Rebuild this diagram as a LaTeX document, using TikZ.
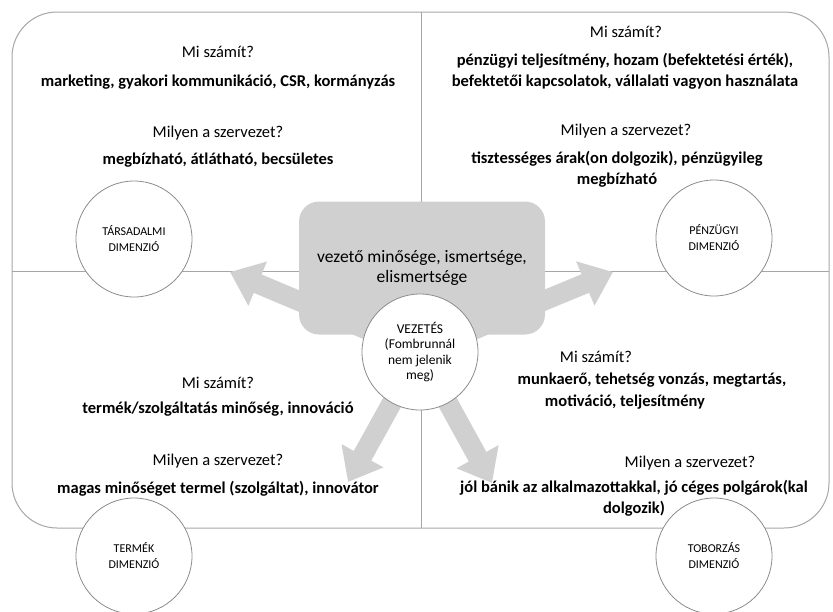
\documentclass[tikz,border=0pt]{standalone}
\usepackage{fontspec}
\setmainfont{Carlito}
\usetikzlibrary{arrows.meta}

\definecolor{framegray}{RGB}{166,166,166}
\definecolor{circlegray}{RGB}{140,140,140}
\definecolor{boxgray}{RGB}{208,208,208}

\begin{document}
\begin{tikzpicture}[x=1pt, y=-1pt,
  question/.style={font=\fontsize{16.5}{21}\selectfont, align=center, inner sep=0pt},
  answer/.style={font=\fontsize{16.5}{21}\selectfont\bfseries, align=center, inner sep=0pt},
  dimension/.style={circle, draw=circlegray, fill=white, line width=0.8pt, minimum size=116pt, inner sep=0pt, align=center, font=\fontsize{12}{16}\selectfont},
  flow/.style={boxgray, line width=20pt, -{Triangle[width=46pt, length=30pt]}}]

  \useasboundingbox (0,0) rectangle (833,611);

  % Draw frame and cross lines
  \draw[framegray, line width=1pt, rounded corners=45pt] (12,12) rectangle (829,528);
  \draw[framegray, line width=1pt] (421,12) -- (421,528);
  \draw[framegray, line width=1pt] (12,271) -- (829,271);

  % Draw arrows from the centre
  \coordinate (hub) at (420,352);
  \coordinate (tipsoc) at (230,272);
  \coordinate (tipfin) at (613,272);
  \coordinate (tipprod) at (348,482);
  \coordinate (tiprec) at (492,483);
  \draw[flow] (hub) -- (tipsoc);
  \draw[flow] (hub) -- (tipfin);
  \draw[flow] (hub) -- (tipprod);
  \draw[flow] (hub) -- (tiprec);

  % Central box and circle
  \node[fill=boxgray, rounded corners=20pt, minimum width=246pt, minimum height=133pt,
        align=center, font=\fontsize{17.5}{20}\selectfont] (lead) at (422,268)
        {vezető minősége, ismertsége,\\elismertsége};
  \node[dimension, font=\fontsize{13.5}{15.5}\selectfont] (vez) at (hub)
        {VEZETÉS\\(Fombrunnál\\nem jelenik\\meg)};

  % Dimension circles
  \node[dimension] (soc) at (134,239) {TÁRSADALMI\\DIMENZIÓ};
  \node[dimension] (fin) at (714,238) {PÉNZÜGYI\\DIMENZIÓ};
  \node[dimension] (prod) at (134,556) {TERMÉK\\DIMENZIÓ};
  \node[dimension] (rec) at (714,556) {TOBORZÁS\\DIMENZIÓ};

  % Social quadrant
  \node[question] (socq) at (218,52) {Mi számít?};
  \node[answer] (soca) at (218,82) {marketing, gyakori kommunikáció, CSR, kormányzás};
  \node[question] (socw) at (218,133) {Milyen a szervezet?};
  \node[answer] (socb) at (218,160) {megbízható, átlátható, becsületes};

  % Financial quadrant
  \node[question] (finq) at (626,32) {Mi számít?};
  \node[answer] (fina) at (625,71) {pénzügyi teljesítmény, hozam (befektetési érték),\\befektetői kapcsolatok, vállalati vagyon használata};
  \node[question] (finw) at (626,131) {Milyen a szervezet?};
  \node[answer] (finb) at (617,169) {tisztességes árak(on dolgozik), pénzügyileg\\megbízható};

  % Product quadrant
  \node[question] (prodq) at (218,383) {Mi számít?};
  \node[answer] (proda) at (218,409) {termék/szolgáltatás minőség, innováció};
  \node[question] (prodw) at (218,461) {Milyen a szervezet?};
  \node[answer] (prodb) at (218,489) {magas minőséget termel (szolgáltat), innovátor};

  % Recruitment quadrant
  \node[question] (recq) at (596,357) {Mi számít?};
  \node[answer] (reca) at (652,380) {munkaerő, tehetség vonzás, megtartás,};
  \node[answer] (recc) at (625,402) {motiváció, teljesítmény};
  \node[question] (recw) at (690,463) {Milyen a szervezet?};
  \node[answer] (recb) at (634,498) {jól bánik az alkalmazottakkal, jó céges polgárok(kal\\dolgozik)};

\end{tikzpicture}
\end{document}
